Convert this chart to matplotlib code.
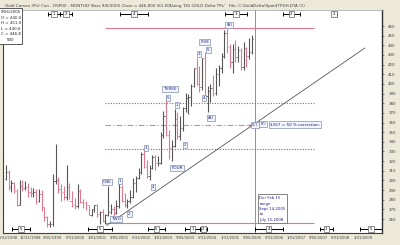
import matplotlib
matplotlib.use("Agg")
import matplotlib.pyplot as plt

# ---------------- data (monthly gold bars, month index 0 = Jan 1998) ----------------
start_month = 3  # Apr 1998
opens = [301, 309, 293, 297, 289, 274, 294, 292, 293,
         288, 287, 288, 279, 286, 272, 262, 255, 255, 299, 300, 291,
         288, 283, 293, 279, 274, 273, 289, 278, 277, 274, 264, 270,
         274, 265, 267, 258, 264, 267, 270, 266, 273, 293, 279, 275,
         279, 283, 297, 302, 309, 327, 314, 305, 313, 324, 318, 318,
         347, 367, 347, 334, 336, 364, 346, 354, 375, 385, 386, 398,
         416, 400, 397, 427, 387, 393, 396, 391, 410, 416, 429, 453,
         438, 423, 436, 428, 435, 418, 437, 429, 433]
highs = [316, 311, 300, 298, 291, 300, 300, 299, 297,
         293, 292, 291, 291, 290, 272, 263, 258, 307, 338, 304, 296,
         294, 316, 297, 289, 282, 296, 291, 281, 279, 274, 270, 275,
         276, 268, 270, 265, 294, 276, 273, 280, 297, 295, 287, 281,
         290, 303, 305, 313, 329, 332, 321, 316, 326, 326, 325, 350,
         372, 389, 352, 342, 374, 371, 367, 376, 391, 390, 400, 417,
         427, 419, 427, 433, 398, 400, 409, 416, 420, 432, 456, 457,
         441, 441, 446, 439, 437, 443, 438, 448, 451]
lows = [300, 290, 288, 287, 273, 274, 289, 290, 283,
        283, 283, 276, 278, 268, 258, 252, 252, 253, 296, 287, 279,
        280, 280, 281, 272, 270, 271, 277, 271, 269, 264, 263, 267,
        262, 255, 257, 255, 263, 265, 263, 265, 271, 278, 272, 271,
        277, 282, 288, 301, 307, 313, 302, 300, 312, 311, 315, 317,
        344, 346, 322, 320, 335, 343, 342, 351, 371, 369, 377, 397,
        399, 392, 394, 385, 371, 381, 387, 388, 398, 411, 427, 432,
        417, 411, 423, 423, 414, 414, 418, 426, 431]
closes = [309, 293, 297, 289, 274, 294, 292, 293, 288,
          287, 288, 279, 286, 272, 262, 255, 255, 299, 300, 291, 288,
          283, 293, 279, 274, 273, 289, 278, 277, 274, 264, 270, 274,
          265, 267, 258, 264, 267, 270, 266, 273, 293, 279, 275, 279,
          283, 297, 302, 309, 327, 314, 305, 313, 324, 318, 318, 347,
          367, 347, 334, 336, 364, 346, 354, 375, 385, 386, 398, 416,
          400, 397, 427, 387, 393, 396, 391, 410, 416, 429, 453, 438,
          423, 436, 428, 435, 418, 437, 429, 433, 446.8]

price_ticks = list(range(260, 461, 10))
date_labels = ["5/31/1998", "12/31/1998", "9/05/1999", "5/31/2000", "1/01/2001",
               "9/05/2001", "5/31/2002", "1/01/2003", "9/05/2003", "5/31/2004",
               "1/31/2005", "9/05/2005", "5/31/2006", "1/31/2007", "9/05/2007",
               "5/31/2008", "1/31/2009"]
date_months = [4, 12, 20, 28, 36, 44, 52, 60, 68, 76, 84, 92, 100, 108, 116, 124, 132]

# wave labels: (text, month, price)
wave_labels = [("ONE", 39.6, 298.3), ("TWO", 42.9, 260.0), ("1", 44.3, 299.4),
               ("2", 47.6, 265.0), ("3", 53.7, 334.0), ("4", 56.2, 293.0),
               ("5", 61.6, 385.0), ("THREE", 62.4, 395.0), ("FOUR", 64.9, 313.0),
               ("1", 64.9, 378.0), ("2", 67.8, 337.0), ("3", 72.8, 431.0),
               ("4", 74.6, 385.0), ("5", 76.2, 435.0), ("FIVE", 74.9, 443.5),
               ("(A)", 77.2, 365.0), ("(B)", 83.8, 461.5), ("(C)", 93.0, 357.5),
               ("(Y)", 96.0, 358.5)]

# support / resistance levels: (price, m_start, m_end, style)
levels = [(457.5, 38.9, 114.5, "solid"), (380.0, 38.9, 114.5, "dotted"),
          (357.0, 38.9, 94.5, "dashdot"), (332.5, 38.9, 114.5, "dotted"),
          (256.0, 38.9, 114.5, "solid")]
trend_m = [39.5, 132.8]
trend_p = [253.4, 437.2]
now_month = 93

# time-cycle windows: (m_start, m_end, label, row)
windows = [(18.3, 22.6, "1", "top"), (22.6, 27.0, "2", "top"), (44.3, 54.4, "4", "top"),
           (82.2, 90.2, "3", "top"), (103.1, 109.3, "2", "top"), (120.8, 122.6, "2", "top"),
           (5.3, 11.8, "5", "bot"), (32.8, 41.4, "5", "bot"), (54.4, 60.5, "5", "bot"),
           (67.8, 73.2, "1", "bot"), (73.2, 75.7, "2", "bot"), (93.0, 103.1, "4", "bot"),
           (116.5, 121.2, "1", "bot"), (131.0, 139.0, "5", "bot")]

# ---------------- figure ----------------
plt.rcParams['font.family'] = ['DejaVu Sans']
BG = "#ECE9D8"
fig = plt.figure(figsize=(4.0, 2.45), dpi=100)
fig.patch.set_facecolor(BG)
ax = fig.add_axes([3 / 400, 12 / 245, 379 / 400, 223 / 245])
ax.set_facecolor("white")
ax.set_xlim(2.0, 139.0)
ax.set_ylim(245.5, 476.6)

UP = "#555555"
DN = "#e07890"
for i, (o, h, l, c) in enumerate(zip(opens, highs, lows, closes)):
    m = start_month + i
    col = UP if c >= o else DN
    ax.vlines(m, l, h, color=col, lw=0.8, zorder=3)
    ax.hlines(o, m - 0.45, m, color=col, lw=0.6, zorder=3)
    ax.hlines(c, m, m + 0.45, color=col, lw=0.6, zorder=3)

for p, m0, m1, st in levels:
    if st == "solid":
        ax.hlines(p, m0, m1, color="#e07890", lw=0.8, zorder=2)
    elif st == "dotted":
        ax.hlines(p, m0, m1, color="#e0406a", lw=0.8, linestyles=(0, (1, 1.4)), zorder=2)
    else:
        ax.hlines(p, m0, m1, color="#e87a98", lw=0.8, linestyles=(0, (5, 2, 1, 2)), zorder=2)
ax.hlines(357.0, 90.5, 95.5, color="#d04a6a", lw=1.0, zorder=2)

ax.plot(trend_m, trend_p, color="#555555", lw=0.6, zorder=2)
ax.axvline(now_month, color="#909090", lw=0.7, zorder=1)

box_style = dict(boxstyle="square,pad=0.25", fc="#f4f6ff", ec="#8090b0", lw=0.5)
for t, m, p in wave_labels:
    ax.text(m, p, t, fontsize=3.0, color="#202080", ha="center", va="center",
            bbox=box_style, zorder=6)

ax.text(98.6, 358.0, "$357 = 50 % correction.", fontsize=3.0, color="#202080",
        ha="left", va="center", bbox=dict(boxstyle="square,pad=0.3", fc="#f4f6ff",
                                           ec="#8090b0", lw=0.5), zorder=6)

ax.text(94.7, 270.5, "Dur Feb 15\nrange\nSept 14,2005\nto\nJuly 15,2008",
        fontsize=2.8, color="#202080", ha="left", va="center", linespacing=1.45,
        bbox=dict(boxstyle="square,pad=0.45", fc="white", ec="#707070", lw=0.6), zorder=6)

# time windows
for m0, m1, t, row in windows:
    y = 472.4 if row == "top" else 249.6
    ax.hlines(y, m0, m1, color="black", lw=0.7, zorder=5)
    ax.vlines([m0, m1], y - 2.0, y + 2.0, color="black", lw=0.7, zorder=5)
    ax.text((m0 + m1) / 2, y, t, fontsize=2.9, color="black", ha="center", va="center",
            bbox=dict(boxstyle="square,pad=0.35", fc="white", ec="#606060", lw=0.5), zorder=6)

# info box
ax.text(4.8, 460.0, "9/06/2005\nO = 440.0\nH = 451.0\nL = 440.0\nC = 446.8\n500",
        fontsize=2.9, color="#202020", ha="center", va="center", linespacing=1.55,
        bbox=dict(boxstyle="square,pad=0.4", fc="white", ec="#404040", lw=0.6), zorder=7)

# axes styling
ax.yaxis.tick_right()
ax.set_yticks(price_ticks)
ax.set_yticklabels([str(v) for v in price_ticks], fontsize=2.9, color="#404040")
ax.tick_params(axis="y", length=1.5, width=0.4, pad=3, colors="#404040")
ax.set_xticks(date_months)
ax.set_xticklabels(date_labels, fontsize=2.7, color="#404040")
ax.tick_params(axis="x", length=0, pad=2.5)
for s in ["left", "bottom"]:
    ax.spines[s].set_color("#404040")
    ax.spines[s].set_linewidth(0.8)
ax.spines["right"].set_color("#303030")
ax.spines["right"].set_linewidth(1.0)
ax.spines["top"].set_color("#a0a0a0")
ax.spines["top"].set_linewidth(0.5)

# title bar
fig.text(0.012, 0.985, "Gold Comex (Pit) Con - DSP00 - MONTHLY Bars 9/6/2005 Close = 446.800 (61.00)",
         fontsize=3.0, color="#404040", ha="left", va="top")
fig.text(0.425, 0.985, "Using 'DG GOLD Delta TPs'   File: C:\\GoldDelta\\Spot\\$TPDH.DTA (1)",
         fontsize=3.0, color="#404040", ha="left", va="top")

fig.savefig("out.png", dpi=100, facecolor=BG)
